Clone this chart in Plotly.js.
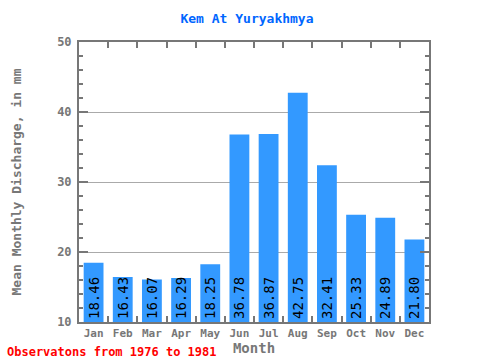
<!DOCTYPE html>
<html><head><meta charset="utf-8">
<script src="https://cdn.plot.ly/plotly-3.0.1.min.js"></script>
<style>html,body{margin:0;padding:0;background:#fff}#c{width:480px;height:360px}</style>
</head><body><div id="c"></div>
<script>
var months = ["Jan","Feb","Mar","Apr","May","Jun","Jul","Aug","Sep","Oct","Nov","Dec"];
var discharge = [18.46,16.43,16.07,16.29,18.25,36.78,36.87,42.75,32.41,25.33,24.89,21.80];
var axisMin = 10;
var labels = discharge.map(function(v){return v.toFixed(2);});
var mono = "DejaVu Sans Mono, monospace";
var axisCol = "#777777";
var trace = {
  type: "bar", x: months, base: axisMin,
  y: discharge.map(function(v){return v - axisMin;}),
  text: labels,
  textposition: "inside", insidetextanchor: "start", textangle: -90,
  constraintext: "none",
  textfont: {family: mono, size: 14, color: "#000"},
  marker: {color: "#3399ff"}, hoverinfo: "none"
};
var layout = {
  width: 480, height: 360,
  margin: {l: 79, r: 51, t: 42, b: 38},
  paper_bgcolor: "#fff", plot_bgcolor: "#fff",
  bargap: 0.32, showlegend: false,
  title: {text: "<b>Kem At Yuryakhmya</b>", font: {family: mono, size: 13, color: "#0066ff"},
          x: 247/480, xref: "container", xanchor: "center", y: 1-18/360, yref: "container", yanchor: "middle"},
  xaxis: {
    showline: true, linecolor: axisCol, linewidth: 2, mirror: "ticks",
    ticks: "inside", tickson: "boundaries", ticklen: 6, tickwidth: 2, tickcolor: axisCol,
    tickangle: 0,
    tickfont: {family: mono, size: 11, color: axisCol, weight: "bold"},
    title: {text: "<b>Month</b>", font: {family: mono, size: 14, color: axisCol}, standoff: 4},
    showgrid: false
  },
  yaxis: {
    range: [10, 50], dtick: 10, tick0: 10,
    showline: true, linecolor: axisCol, linewidth: 2, mirror: "ticks",
    ticks: "inside", ticklen: 9, tickwidth: 2, tickcolor: axisCol,
    ticklabelstandoff: 3,
    minor: {dtick: 2, ticks: "inside", ticklen: 4, tickwidth: 2, tickcolor: axisCol, showgrid: false},
    showgrid: true, gridcolor: "#aaaaaa", gridwidth: 1,
    zeroline: false,
    tickfont: {family: mono, size: 12, color: axisCol, weight: "bold"},
    title: {text: "<b>Mean Monthly Discharge, in mm</b>", font: {family: mono, size: 13, color: axisCol}, standoff: 33}
  },
  annotations: [{
    text: "<b>Observatons from 1976 to 1981</b>", xref: "paper", yref: "paper",
    x: (5-79)/350, xanchor: "left", y: (8-38)/280, yanchor: "middle",
    showarrow: false, font: {family: mono, size: 12, color: "#ff0000"}
  }]
};
Plotly.newPlot("c", [trace], layout, {staticPlot: true, displayModeBar: false});
</script></body></html>
